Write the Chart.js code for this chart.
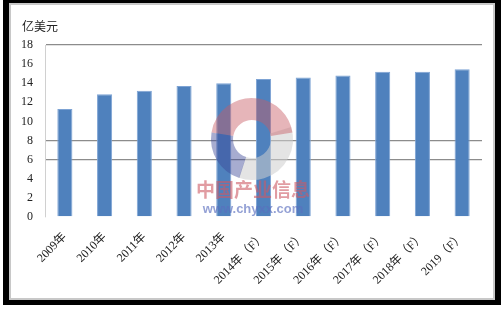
<!DOCTYPE html>
<html>
<head>
<meta charset="utf-8">
<script src="https://cdn.jsdelivr.net/npm/chart.js@4/dist/chart.umd.min.js"></script>
<style>
  html, body { margin: 0; padding: 0; background: #fff; }
  #wrap { position: relative; width: 503px; height: 315px; overflow: hidden; }
  #frame {
    position: absolute; left: 3px; top: 0; width: 486px; height: 297px;
    border-style: solid; border-color: #000;
    border-width: 3px 6px 5px 6px;
    box-shadow: inset 0 0 0 2px #c8c8c8;
  }
  #chart { position: absolute; left: 0; top: 0; }
</style>
</head>
<body>
<div id="wrap">
  <div id="frame"></div>
  <canvas id="chart" width="503" height="315"></canvas>
</div>
<script>
// 数据（亿美元）
const years = ['2009年', '2010年', '2011年', '2012年', '2013年',
  '2014年（F）', '2015年（F）', '2016年（F）', '2017年（F）', '2018年（F）', '2019（F）'];
const marketSize = [11.3, 12.85, 13.2, 13.7, 14.0, 14.45, 14.6, 14.8, 15.2, 15.2, 15.45];
const yTicks = [0, 2, 4, 6, 8, 10, 12, 14, 16, 18];
const gridValues = [6, 8, 18];
const unitLabel = '亿美元';

const serif = '"Liberation Serif", "Noto Sans CJK SC", serif';

// 单位文字 + 水印
const decorPlugin = {
  id: 'decor',
  afterDraw(chart) {
    const ctx = chart.ctx;
    ctx.save();
    ctx.fillStyle = '#222';
    ctx.font = '12px "Noto Sans CJK SC", sans-serif';
    ctx.textAlign = 'left';
    ctx.textBaseline = 'middle';
    ctx.fillText(unitLabel, 22, 26);

    // watermark
    const cx = 252, cy = 139, r = 30;
    ctx.lineWidth = 22;
    ctx.strokeStyle = 'rgba(205, 205, 205, 0.55)';
    ctx.beginPath(); ctx.arc(cx, cy, r, -0.3, 1.9); ctx.stroke();
    ctx.strokeStyle = 'rgba(200, 90, 100, 0.45)';
    ctx.beginPath(); ctx.arc(cx, cy, r, Math.PI * 1.05, Math.PI * 1.95); ctx.stroke();
    ctx.strokeStyle = 'rgba(60, 70, 150, 0.45)';
    ctx.beginPath(); ctx.arc(cx, cy, r, Math.PI * 0.6, Math.PI * 1.05); ctx.stroke();

    ctx.textAlign = 'center';
    ctx.fillStyle = 'rgba(205, 90, 100, 0.6)';
    ctx.font = 'bold 19px "Noto Sans CJK SC", sans-serif';
    ctx.fillText('中国产业信息', 253, 190);
    ctx.fillStyle = 'rgba(90, 110, 190, 0.65)';
    ctx.font = 'bold 13px "Liberation Sans", sans-serif';
    ctx.fillText('www.chyxx.com', 253, 209);
    ctx.restore();
  }
};

new Chart(document.getElementById('chart'), {
  type: 'bar',
  data: {
    labels: years,
    datasets: [{
      data: marketSize,
      backgroundColor: '#4f81bd',
      borderColor: '#7da3d4',
      borderWidth: 1,
      barPercentage: 0.38,
      categoryPercentage: 1.0
    }]
  },
  options: {
    responsive: false,
    animation: false,
    layout: { padding: { top: 45, right: 21, bottom: 19, left: 0 } },
    plugins: { legend: { display: false }, tooltip: { enabled: false } },
    scales: {
      x: {
        grid: { display: false, drawTicks: false },
        border: { display: false },
        ticks: {
          autoSkip: false,
          maxRotation: 45,
          minRotation: 45,
          padding: 13,
          color: '#222',
          font: { family: serif, size: 12 }
        },
        afterFit(axis) { axis.height = 79; }
      },
      y: {
        min: 0,
        max: 18,
        afterBuildTicks(axis) { axis.ticks = yTicks.map(v => ({ value: v })); },
        grid: {
          drawTicks: false,
          color: ctx => gridValues.includes(ctx.tick && ctx.tick.value) ? '#8c8c8c' : 'rgba(0,0,0,0)',
          lineWidth: 1.3
        },
        border: { display: true, color: '#d0d0d0', width: 1 },
        ticks: {
          padding: 12,
          color: '#222',
          font: { family: serif, size: 12 }
        },
        afterFit(axis) { axis.width = 45; }
      }
    }
  },
  plugins: [decorPlugin]
});
</script>
</body>
</html>
